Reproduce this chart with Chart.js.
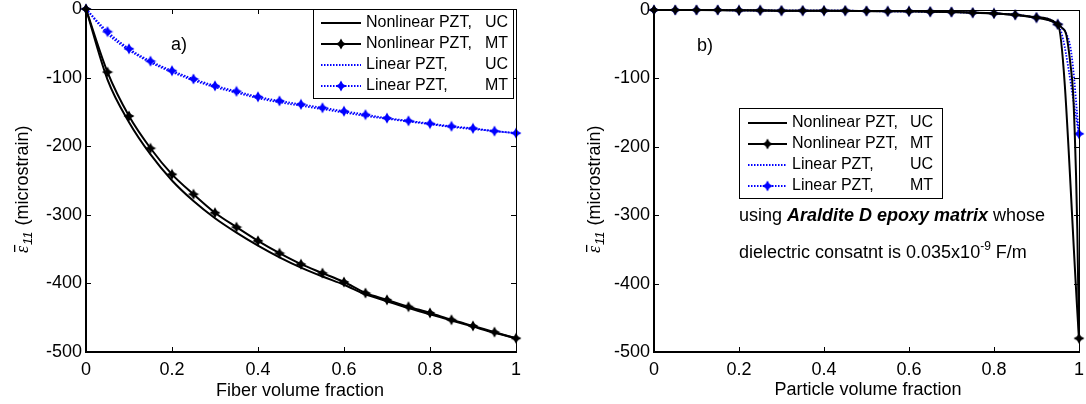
<!DOCTYPE html>
<html>
<head>
<meta charset="utf-8">
<script src="https://cdn.jsdelivr.net/npm/chart.js@4"></script>
<style>
  body { margin: 0; background: #fff; }
  #wrap { position: relative; width: 1086px; height: 404px; }
  .panel { position: absolute; top: 0; width: 543px; height: 404px; }
</style>
</head>
<body>
<div id="wrap">
  <div class="panel" style="left:0"><canvas id="chartA"></canvas></div>
  <div class="panel" style="left:543px"><canvas id="chartB"></canvas></div>
</div>
<script>
// ---- data ----
const fiberFrac     = [0, 0.05, 0.1, 0.15, 0.2, 0.25, 0.3, 0.35, 0.4, 0.45, 0.5, 0.55, 0.6, 0.65, 0.7, 0.75, 0.8, 0.85, 0.9, 0.95, 1];
const fiberNonlinUC = [0, -103, -165, -212, -250, -280, -305, -326, -345, -362, -377, -390, -402, -416, -426, -436, -445, -454, -463, -472, -480];
const fiberNonlinMT = [0, -92, -156, -203, -241, -270, -297, -318, -338, -356, -372, -385, -398, -414, -424, -434, -443, -453, -462, -471, -480];
const fiberLinUC    = [0, -36, -60, -78, -92, -104, -114, -122, -130, -136, -141, -146, -151, -156, -160, -164, -168, -172, -175, -178, -181];
const fiberLinMT    = [0, -33, -58, -76, -90, -102, -112, -120, -128, -134, -139, -144, -149, -154, -159, -163, -167, -171, -174, -178, -181];

const particleFrac     = [0, 0.05, 0.1, 0.15, 0.2, 0.25, 0.3, 0.35, 0.4, 0.45, 0.5, 0.55, 0.6, 0.65, 0.7, 0.75, 0.8, 0.85, 0.9, 0.95, 1];
const particleNonlinMT = [0, 0, 0, 0, -0.5, -0.5, -1, -1, -1, -1, -1.5, -2, -2, -2.5, -3, -4, -5, -7, -11, -21, -480];
const particleLinMT    = [0, 0, 0, 0, -0.5, -0.5, -1, -1, -1, -1, -1.5, -2, -2, -2.5, -3, -4, -5, -7, -11, -21, -181];
const particleFracUC   = [0, 0.1, 0.2, 0.3, 0.4, 0.5, 0.6, 0.7, 0.8, 0.85, 0.9, 0.93, 0.95, 0.96, 0.97, 0.98, 0.986, 0.99, 0.993, 0.996, 1];
const particleNonlinUC = [0, 0, -0.5, -1, -1, -1.5, -2, -3, -5, -7, -11, -15, -21, -26, -36, -80, -120, -180, -240, -320, -480];
const particleLinUC    = [0, 0, -0.5, -1, -1, -1.5, -2, -3, -5, -7, -11, -15, -21, -26, -34, -55, -84, -110, -133, -155, -181];

const xTicks = [0, 0.2, 0.4, 0.6, 0.8, 1];
const yTicks = [-500, -400, -300, -200, -100, 0];

const FONT = '"Liberation Sans", Arial, sans-serif';
const BLUE = '#0000ff';

function makeMarker(color) {
  const c = document.createElement('canvas');
  c.width = 12; c.height = 12;
  const g = c.getContext('2d');
  g.fillStyle = color;
  g.beginPath();
  g.moveTo(6, 0.5); g.lineTo(8, 4); g.lineTo(11.5, 6); g.lineTo(8, 8);
  g.lineTo(6, 11.5); g.lineTo(4, 8); g.lineTo(0.5, 6); g.lineTo(4, 4);
  g.closePath(); g.fill();
  return c;
}
const blackMark = makeMarker('#000');
const blueMark = makeMarker(BLUE);

const pts = (xs, ys) => xs.map((x, i) => ({ x: x, y: ys[i] }));

function makeDatasets(xUC, nUC, xMT, nMT, lUC, lMT) {
  return [
    { label: 'Nonlinear PZT,', model: 'UC', data: pts(xUC, nUC), borderColor: '#000', borderWidth: 2, pointRadius: 0 },
    { label: 'Nonlinear PZT,', model: 'MT', data: pts(xMT, nMT), borderColor: '#000', borderWidth: 2, pointStyle: blackMark, marker: blackMark },
    { label: 'Linear PZT,', model: 'UC', data: pts(xUC, lUC), borderColor: BLUE, borderWidth: 1.8, borderDash: [1.5, 1.5], pointRadius: 0 },
    { label: 'Linear PZT,', model: 'MT', data: pts(xMT, lMT), borderColor: BLUE, borderWidth: 1.8, borderDash: [1.5, 1.5], pointStyle: blueMark, marker: blueMark }
  ].map(d => Object.assign({ cubicInterpolationMode: 'monotone', clip: false, fill: false }, d));
}

function drawYTitle(ctx, x, yBottom) {
  ctx.save();
  ctx.translate(x, yBottom);
  ctx.rotate(-Math.PI / 2);
  ctx.fillStyle = '#000';
  ctx.textAlign = 'left';
  ctx.textBaseline = 'alphabetic';
  ctx.font = 'italic 18px "Liberation Serif", serif';
  ctx.fillText('ε', 0, 0);
  const ew = ctx.measureText('ε').width;
  ctx.fillRect(1, -14, ew, 1.3);
  ctx.font = 'italic 13px ' + FONT;
  ctx.fillText('11', ew + 1, 4);
  const sw = ctx.measureText('11').width;
  ctx.font = '18px ' + FONT;
  ctx.fillText(' (microstrain)', ew + sw + 2, 0);
  ctx.restore();
}

const matlabFrame = {
  id: 'matlabFrame',
  afterDatasetsDraw(chart, args, o) {
    const { ctx, chartArea: a, scales: { x, y } } = chart;
    ctx.save();
    ctx.strokeStyle = '#000';
    ctx.setLineDash([]);
    // inward ticks on all four sides
    ctx.lineWidth = 1;
    ctx.beginPath();
    xTicks.forEach(v => {
      const px = Math.round(x.getPixelForValue(v)) + 0.5;
      ctx.moveTo(px, a.bottom); ctx.lineTo(px, a.bottom - 5);
      ctx.moveTo(px, a.top); ctx.lineTo(px, a.top + 5);
    });
    yTicks.forEach(v => {
      const py = Math.round(y.getPixelForValue(v)) + 0.5;
      ctx.moveTo(a.left, py); ctx.lineTo(a.left + 5, py);
      ctx.moveTo(a.right, py); ctx.lineTo(a.right - 5, py);
    });
    ctx.stroke();
    // box: thin top/right, thicker left/bottom
    ctx.beginPath();
    ctx.moveTo(a.left, a.top + 0.5); ctx.lineTo(a.right + 0.5, a.top + 0.5); ctx.lineTo(a.right + 0.5, a.bottom);
    ctx.stroke();
    ctx.lineWidth = 2;
    ctx.beginPath();
    ctx.moveTo(a.left, a.top); ctx.lineTo(a.left, a.bottom); ctx.lineTo(a.right + 1, a.bottom);
    ctx.stroke();

    // legend
    const L = o.legend;
    ctx.fillStyle = '#fff';
    ctx.fillRect(L.x, L.y, L.w, L.h);
    ctx.lineWidth = 1;
    ctx.strokeStyle = '#000';
    ctx.strokeRect(L.x + 0.5, L.y + 0.5, L.w, L.h);
    ctx.font = L.font + 'px ' + FONT;
    ctx.textBaseline = 'middle';
    chart.data.datasets.forEach((d, i) => {
      const yy = L.y + L.row0 + i * L.step;
      ctx.strokeStyle = d.borderColor;
      ctx.lineWidth = d.borderWidth;
      ctx.setLineDash(d.borderDash || []);
      ctx.beginPath(); ctx.moveTo(L.lx0, yy); ctx.lineTo(L.lx1, yy); ctx.stroke();
      ctx.setLineDash([]);
      if (d.marker) ctx.drawImage(d.marker, (L.lx0 + L.lx1) / 2 - 6, yy - 6);
      ctx.fillStyle = '#000';
      ctx.textAlign = 'left';
      ctx.fillText(d.label, L.tx, yy);
      ctx.textAlign = 'right';
      ctx.fillText(d.model, L.tr, yy);
    });

    // panel tag and notes
    ctx.fillStyle = '#000';
    ctx.textBaseline = 'alphabetic';
    ctx.textAlign = 'left';
    ctx.font = '18px ' + FONT;
    ctx.fillText(o.tag.text, o.tag.x, o.tag.y);
    if (o.note) {
      const n = o.note;
      let cx = n.x;
      ctx.font = '18px ' + FONT;
      ctx.fillText('using ', cx, n.y1); cx += ctx.measureText('using ').width;
      ctx.font = 'italic bold 18px ' + FONT;
      ctx.fillText('Araldite D epoxy matrix', cx, n.y1); cx += ctx.measureText('Araldite D epoxy matrix').width;
      ctx.font = '18px ' + FONT;
      ctx.fillText(' whose', cx, n.y1);
      cx = n.x;
      ctx.fillText('dielectric consatnt is 0.035x10', cx, n.y2); cx += ctx.measureText('dielectric consatnt is 0.035x10').width;
      ctx.font = '12px ' + FONT;
      ctx.fillText('-9', cx, n.y2 - 8); cx += ctx.measureText('-9').width;
      ctx.font = '18px ' + FONT;
      ctx.fillText(' F/m', cx, n.y2);
    }

    // axis titles
    ctx.textAlign = 'center';
    ctx.font = '18px ' + FONT;
    ctx.fillText(o.xTitle.text, o.xTitle.x, o.xTitle.y);
    drawYTitle(ctx, o.yTitle.x, o.yTitle.y);
    ctx.restore();
  }
};

function makeOptions(yWidth, pad, frame) {
  return {
    responsive: true,
    maintainAspectRatio: false,
    animation: false,
    layout: { padding: pad },
    elements: { point: { radius: 5, hoverRadius: 5 } },
    plugins: { legend: { display: false }, tooltip: { enabled: false }, matlabFrame: frame },
    scales: {
      x: {
        type: 'linear', min: 0, max: 1,
        afterBuildTicks: s => { s.ticks = xTicks.map(v => ({ value: v })); },
        afterFit: s => { s.height = 52; s.paddingLeft = 0; s.paddingRight = 0; },
        grid: { display: false, drawTicks: false },
        border: { display: false },
        ticks: { color: '#000', font: { family: FONT, size: 18 }, padding: 7, maxRotation: 0, autoSkip: false,
                 callback: v => String(+v.toFixed(1)) }
      },
      y: {
        min: -500, max: 0,
        afterBuildTicks: s => { s.ticks = yTicks.map(v => ({ value: v })); },
        afterFit: s => { s.width = yWidth; s.paddingTop = 0; s.paddingBottom = 0; },
        grid: { display: false, drawTicks: false },
        border: { display: false },
        ticks: { color: '#000', font: { family: FONT, size: 18 }, padding: 4, callback: v => String(v) }
      }
    }
  };
}

new Chart(document.getElementById('chartA'), {
  type: 'line',
  data: { datasets: makeDatasets(fiberFrac, fiberNonlinUC, fiberFrac, fiberNonlinMT, fiberLinUC, fiberLinMT) },
  options: makeOptions(86, { top: 9, right: 27, left: 0, bottom: 0 }, {
    legend: { x: 313, y: 9, w: 200, h: 89, row0: 14, step: 21, lx0: 321, lx1: 361, tx: 366, tr: 508, font: 16 },
    tag: { text: 'a)', x: 171, y: 50 },
    xTitle: { text: 'Fiber volume fraction', x: 300, y: 396 },
    yTitle: { x: 28, y: 253 }
  }),
  plugins: [matlabFrame]
});

new Chart(document.getElementById('chartB'), {
  type: 'line',
  data: { datasets: makeDatasets(particleFracUC, particleNonlinUC, particleFrac, particleNonlinMT, particleLinUC, particleLinMT) },
  options: makeOptions(111, { top: 10, right: 3, left: 0, bottom: 0 }, {
    legend: { x: 196, y: 108, w: 203, h: 90, row0: 15, step: 21, lx0: 205, lx1: 244, tx: 249, tr: 390, font: 16 },
    tag: { text: 'b)', x: 154, y: 51 },
    note: { x: 196, y1: 221, y2: 258 },
    xTitle: { text: 'Particle volume fraction', x: 325, y: 395 },
    yTitle: { x: 57, y: 253 }
  }),
  plugins: [matlabFrame]
});
</script>
</body>
</html>
